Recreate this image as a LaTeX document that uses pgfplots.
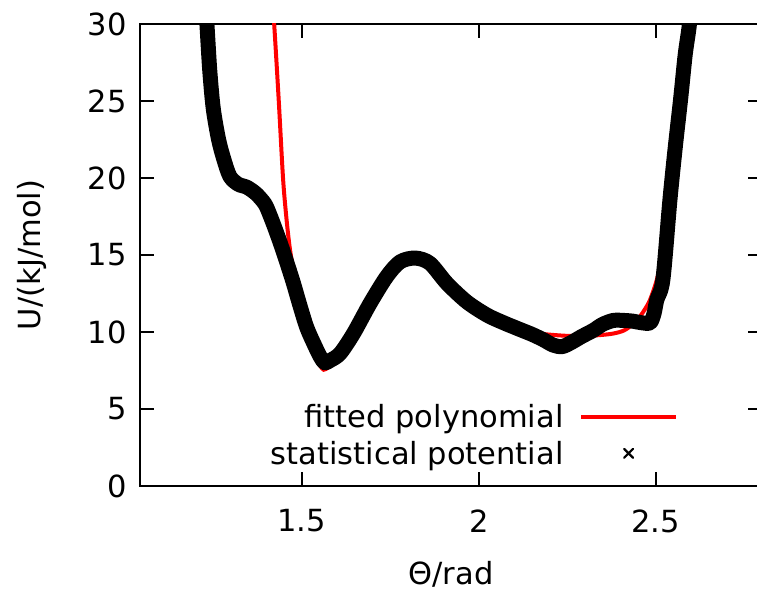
\documentclass[border=0pt]{standalone}
\usepackage{fontspec}
\setmainfont{DejaVu Sans}
\usepackage{pgfplots}
\pgfplotsset{compat=1.18}
\newcommand{\bigfont}{\fontsize{30.5}{36}\selectfont}
\begin{document}
\begin{tikzpicture}
\useasboundingbox (-140pt,-105pt) rectangle (617pt,486pt);
\begin{axis}[
  at={(0pt,0pt)}, anchor=south west,
  scale only axis,
  width=622pt, height=462pt,
  xmin=1.043, xmax=2.8,
  ymin=0, ymax=30,
  xtick={1.5,2,2.5},
  ytick={0,5,10,15,20,25,30},
  /pgf/number format/assume math mode=true,
  tick label style={font=\bigfont},
  label style={font=\bigfont},
  axis line style={line width=2.5pt},
  tick style={line width=2pt, black},
  major tick length=14pt,
  tick align=inside,
  xticklabel style={yshift=-20pt},
  yticklabel style={xshift=-10pt},
  xlabel={Θ/rad},
  ylabel={U/(kJ/mol)},
  xlabel style={at={(axis description cs:0.5,0)}, anchor=north, yshift=-72pt},
  ylabel style={at={(axis description cs:-0.1736,0.5)}, anchor=center, rotate=0},
  legend style={draw=none, fill=none, font=\bigfont,
    at={(axis description cs:0.879,0.035)}, anchor=south east,
    legend cell align=right, column sep=8pt, row sep=8pt,
    nodes={inner ysep=2pt}},
  legend plot pos=right,
]
\addplot[red, line width=4pt, smooth, tension=0.5,
  legend image code/.code={\draw[red,line width=4pt] (0pt,0pt) -- (95pt,0pt);}]
coordinates {
(1.410,34) (1.422,30) (1.435,25) (1.447,20) (1.457,17.3) (1.467,15.3) (1.480,13.6)
(1.495,12.0) (1.510,10.7) (1.525,9.4) (1.540,8.3) (1.552,7.8) (1.562,7.55)
(1.575,7.7) (1.590,8.0) (1.608,8.5) (1.646,9.8) (1.693,11.8) (1.740,13.5)
(1.778,14.4) (1.821,14.6) (1.862,14.35) (1.910,13.15) (1.966,11.95)
(2.023,11.1) (2.070,10.55) (2.107,10.25) (2.150,10.0) (2.190,9.85)
(2.250,9.75) (2.300,9.75) (2.343,9.8) (2.380,9.9) (2.410,10.1) (2.435,10.5)
(2.455,11.0) (2.470,11.5) (2.484,12.1) (2.503,13.4) (2.520,15.2)
(2.540,18.3) (2.555,21.2) (2.570,24.5) (2.583,27.5) (2.592,30) (2.600,32)
};
\addlegendentry{fitted polynomial}
\addplot[black, line width=15pt, line join=round, line cap=round, smooth, tension=0.5,
  legend image code/.code={\draw[black,line width=2.2pt] (43pt,-4.5pt) -- (52pt,4.5pt) (43pt,4.5pt) -- (52pt,-4.5pt); \path (0pt,0pt) (95pt,0pt);}]
coordinates {
(1.226,32) (1.232,30) (1.240,27) (1.250,24.5) (1.265,22.5) (1.280,21.2)
(1.297,20.1) (1.320,19.6) (1.345,19.4) (1.370,19.0) (1.390,18.5)
(1.401,18.1) (1.420,17.0) (1.439,15.8) (1.458,14.5) (1.476,13.2)
(1.495,11.7) (1.514,10.3) (1.535,9.2) (1.552,8.4) (1.565,8.0) (1.580,8.15)
(1.608,8.6) (1.646,9.9) (1.693,11.86) (1.740,13.6) (1.778,14.56)
(1.821,14.8) (1.862,14.46) (1.910,13.16) (1.966,11.96) (2.023,11.1)
(2.070,10.6) (2.107,10.25) (2.150,9.85) (2.182,9.5) (2.210,9.15)
(2.235,9.05) (2.260,9.3) (2.290,9.7) (2.323,10.1) (2.350,10.5)
(2.380,10.75) (2.410,10.75) (2.436,10.7) (2.460,10.6) (2.484,10.6)
(2.495,11.2) (2.503,12.1) (2.520,13.4) (2.540,18.6) (2.555,22)
(2.570,25.1) (2.583,28) (2.595,30) (2.600,32)
};
\addlegendentry{statistical potential}
\end{axis}
\end{tikzpicture}
\end{document}
